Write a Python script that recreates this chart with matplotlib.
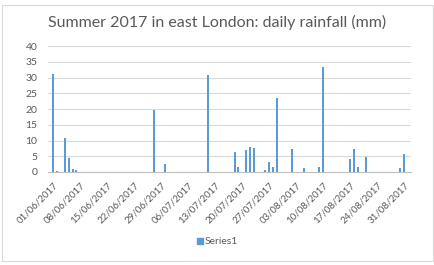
import matplotlib
matplotlib.use("Agg")
import matplotlib.pyplot as plt
import matplotlib.patches as mpatches
import numpy as np
import pandas as pd

# wet days (day/month) and rainfall in mm, everything else is 0
wet_days = ["01/06", "02/06", "04/06", "05/06", "06/06", "07/06",
            "27/06", "30/06", "11/07", "18/07", "19/07", "21/07",
            "22/07", "23/07", "26/07", "27/07", "28/07", "29/07",
            "02/08", "05/08", "09/08", "10/08", "17/08", "18/08",
            "19/08", "21/08", "30/08", "31/08"]
wet_mm = [31.0, 0.3, 10.7, 4.5, 1.0, 0.7,
          19.7, 2.6, 30.7, 6.3, 1.7, 6.9,
          8.0, 7.7, 0.6, 3.1, 1.5, 23.5,
          7.2, 1.2, 1.6, 33.5, 4.1, 7.2,
          1.6, 4.8, 1.2, 5.7]

days = pd.date_range("2017-06-01", "2017-08-31", freq="D")
rain = pd.Series(0.0, index=days)
for d, v in zip(wet_days, wet_mm):
    rain[pd.Timestamp("2017-" + d[3:] + "-" + d[:2])] = v

yticks = [0, 5, 10, 15, 20, 25, 30, 35, 40]
grey = "#595959"
plt.rcParams["font.family"] = ["Lato", "DejaVu Sans"]

fig = plt.figure(figsize=(4.35, 2.65), dpi=100)
ax = fig.add_axes([0.111, 0.351, 0.833, 0.475])

x = np.arange(len(rain))
ax.bar(x, rain.values, width=0.5, color="#5B9BD5", linewidth=0, zorder=3)

ax.set_xlim(-1.3, 92.66)
ax.set_ylim(0, 40)
ax.set_yticks(yticks)
ax.set_yticklabels([str(v) for v in yticks], color=grey, fontsize=7.5)
ax.yaxis.grid(True, color="#D9D9D9", linewidth=0.8, zorder=0)
ax.tick_params(axis="y", length=0, pad=8)

tick_idx = x[::7]
ax.set_xticks(tick_idx)
ax.set_xticklabels([days[i].strftime("%d/%m/%Y") for i in tick_idx],
                   rotation=45, ha="right", rotation_mode="anchor",
                   color=grey, fontsize=7)
ax.tick_params(axis="x", length=0, pad=6)

for s in ["top", "right", "left"]:
    ax.spines[s].set_visible(False)
ax.spines["bottom"].set_color("#BFBFBF")
ax.spines["bottom"].set_linewidth(0.8)

fig.text(0.5, 0.915, "Summer 2017 in east London: daily rainfall (mm)",
         ha="center", va="center", color=grey, fontsize=11.5)

# legend
fig.patches.append(mpatches.Rectangle((0.452, 0.079), 0.014, 0.024,
                                      transform=fig.transFigure,
                                      color="#5B9BD5"))
fig.text(0.47, 0.09, "Series1", ha="left", va="center", color=grey,
         fontsize=7.5)

# chart frame
fig.patches.append(mpatches.Rectangle((0.005, 0.015), 0.99, 0.965,
                                      transform=fig.transFigure,
                                      fill=False, edgecolor="#D9D9D9",
                                      linewidth=0.8))

fig.savefig("out.png", dpi=100, facecolor="white")
